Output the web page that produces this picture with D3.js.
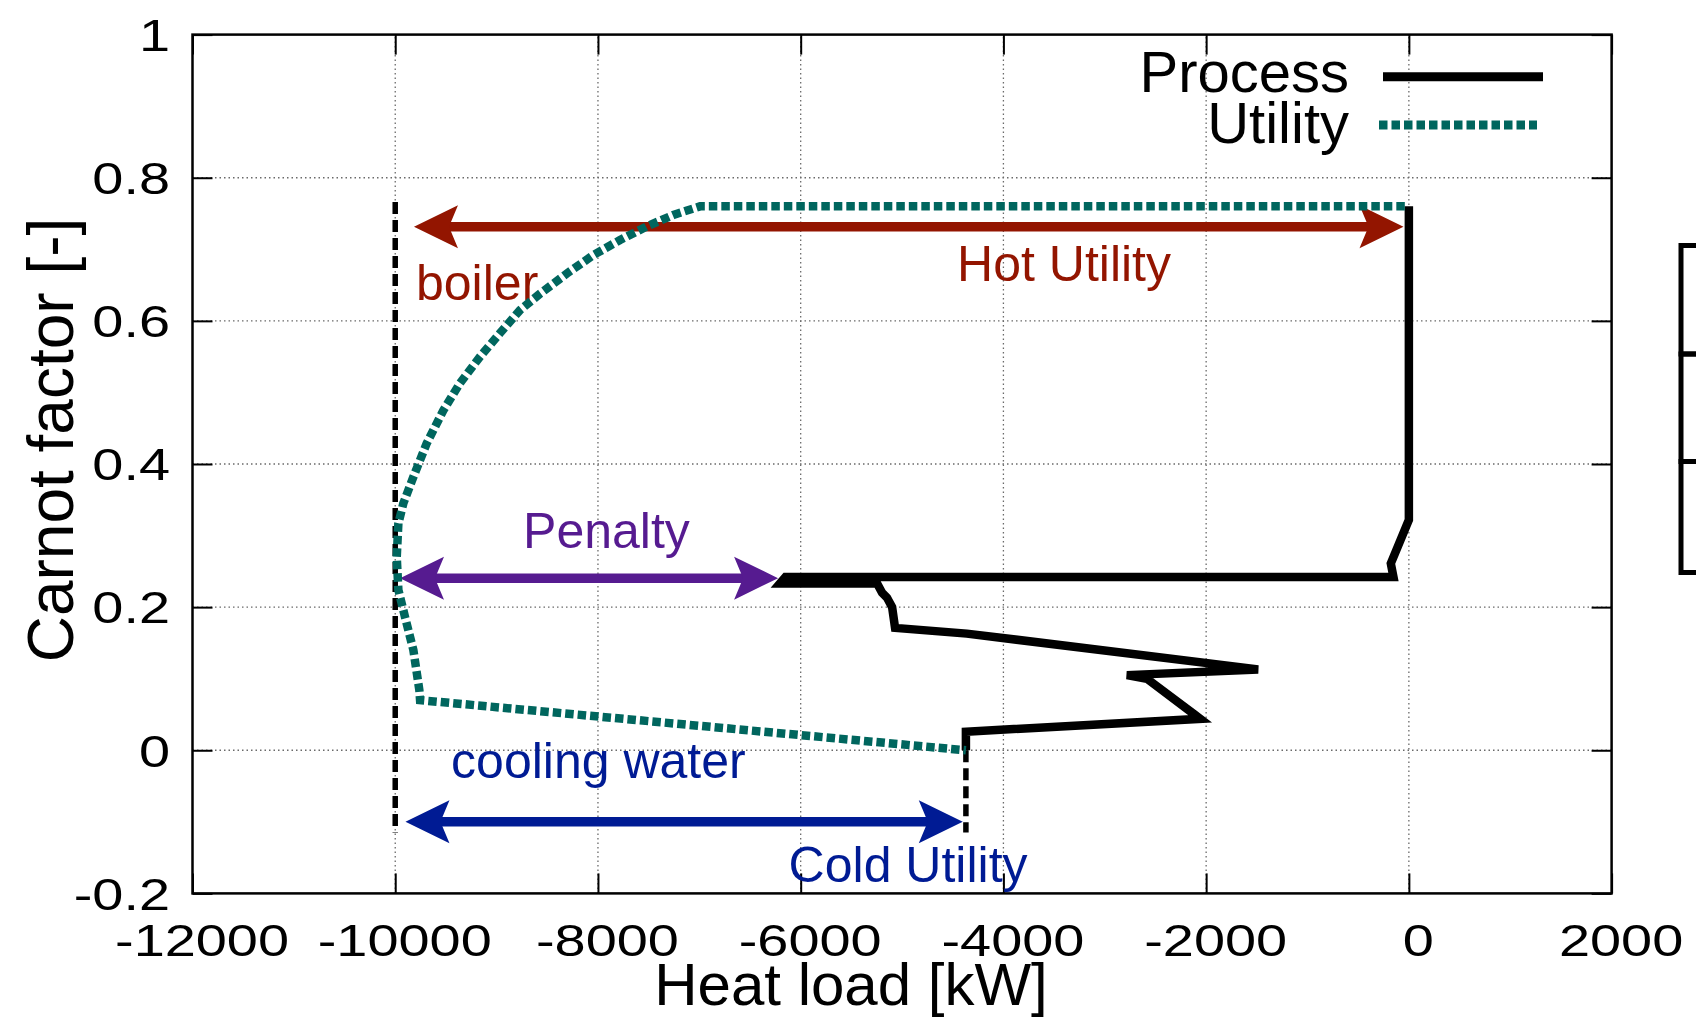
<!DOCTYPE html>
<html>
<head>
<meta charset="utf-8">
<script src="https://cdn.jsdelivr.net/npm/d3@7"></script>
<style>
  body { margin: 0; background: #fff; }
  svg { display: block; font-family: "Liberation Sans", Arial, sans-serif; }
</style>
</head>
<body>
<script>
// ---- data ----
var xTicks = [-12000, -10000, -8000, -6000, -4000, -2000, 0, 2000];
var xTickLabels = ['-12000', '-10000', '-8000', '-6000', '-4000', '-2000', '0', '2000'];
var yTicks = [-0.2, 0, 0.2, 0.4, 0.6, 0.8, 1];
var yTickLabels = ['-0.2', '0', '0.2', '0.4', '0.6', '0.8', '1'];

// process composite curve
var processX = [0, 0, -178, -152, -6150, -6205, -5246, -5197, -5148, -5098, -5069, -4361, -1487, -2782, -2585, -2125, -2059, -4370, -4370];
var processY = [0.760, 0.322, 0.261, 0.242, 0.242, 0.233, 0.233, 0.220, 0.213, 0.200, 0.171, 0.163, 0.113, 0.105, 0.100, 0.051, 0.044, 0.026, 0.0];

// utility curve
var utilityX = [-40, -6993, -7059, -7256, -7518, -7782, -8045, -8308, -8571, -8769, -8966, -9163, -9361, -9525, -9689, -9821, -9920, -9969, -9985, -9969, -9903, -9821, -9762, -9755, -4370];
var utilityY = [0.760, 0.760, 0.757, 0.748, 0.732, 0.713, 0.692, 0.666, 0.638, 0.615, 0.583, 0.550, 0.513, 0.475, 0.429, 0.382, 0.345, 0.317, 0.270, 0.224, 0.186, 0.140, 0.084, 0.070, 0.0];

// black dashed verticals: x, yTop, yBottom
var dashX = [-10000, -4370];
var dashTop = [0.766, 0.0];
var dashBottom = [-0.115, -0.115];

// double arrows
var arrowNames = ['hot', 'penalty', 'cold'];
var arrowX1 = [-9815, -9953, -9899];
var arrowX2 = [-53, -6223, -4401];
var arrowY = [0.7315, 0.2405, -0.100];
var arrowColors = ['#931500', '#561b90', '#001b94'];

// annotation labels
var labelTexts = ['boiler', 'Hot Utility', 'Penalty', 'cooling water', 'Cold Utility'];
var labelX = [-9795, -4457, -8739, -9449, -6119];
var labelY = [0.629, 0.656, 0.2825, -0.039, -0.184];
var labelColors = ['#931500', '#931500', '#561b90', '#001b94', '#001b94'];

var legendNames = ['Process', 'Utility'];

// ---- layout ----
var W = 1696, H = 1017;
var plotL = 192.5, plotR = 1611.6, plotT = 34.6, plotB = 893.4;
var tickFont = 44, tickStretch = 1.27;
var teal = '#00665e';

var svg = d3.select('body').append('svg')
  .attr('width', W)
  .attr('height', H);

svg.append('rect').attr('width', W).attr('height', H).attr('fill', '#fff');

var x = d3.scaleLinear().domain([-12000, 2000]).range([plotL, plotR]);
var y = d3.scaleLinear().domain([-0.2, 1]).range([plotB, plotT]);

// grid
var grid = svg.append('g').attr('class', 'grid')
  .attr('stroke', '#6a6a6a')
  .attr('stroke-width', 1.3)
  .attr('stroke-dasharray', '1.5,3');

grid.selectAll('line.gx')
  .data(xTicks.slice(1, -1))
  .enter().append('line')
  .attr('x1', function(d) { return x(d); })
  .attr('x2', function(d) { return x(d); })
  .attr('y1', plotB)
  .attr('y2', plotT);

grid.selectAll('line.gy')
  .data(yTicks.slice(1, -1))
  .enter().append('line')
  .attr('y1', function(d) { return y(d); })
  .attr('y2', function(d) { return y(d); })
  .attr('x1', plotL)
  .attr('x2', plotR);

// axes with inward ticks
var axisB = svg.append('g')
  .attr('transform', 'translate(0,' + plotB + ')')
  .call(d3.axisBottom(x).tickValues(xTicks).tickSizeInner(-20).tickSizeOuter(0)
    .tickFormat(function(d, i) { return xTickLabels[i]; }));

var axisL = svg.append('g')
  .attr('transform', 'translate(' + plotL + ',0)')
  .call(d3.axisLeft(y).tickValues(yTicks).tickSizeInner(-20).tickSizeOuter(0)
    .tickFormat(function(d, i) { return yTickLabels[i]; }));

var axisT = svg.append('g')
  .attr('transform', 'translate(0,' + plotT + ')')
  .call(d3.axisTop(x).tickValues(xTicks).tickSizeInner(-20).tickSizeOuter(0).tickFormat(''));

var axisR = svg.append('g')
  .attr('transform', 'translate(' + plotR + ',0)')
  .call(d3.axisRight(y).tickValues(yTicks).tickSizeInner(-20).tickSizeOuter(0).tickFormat(''));

[axisB, axisL, axisT, axisR].forEach(function(a) {
  a.select('.domain').remove();
  a.selectAll('.tick line').attr('stroke', '#000').attr('stroke-width', 2);
  a.selectAll('.tick text')
    .attr('fill', '#000')
    .style('font-size', tickFont + 'px')
    .style('font-family', '"Liberation Sans", Arial, sans-serif');
});

// gnuplot labels render wide, stretch them
axisB.selectAll('.tick text')
  .attr('x', 0).attr('y', 0).attr('dy', 0)
  .attr('transform', 'translate(9,63) scale(' + tickStretch + ',1)');

axisL.selectAll('.tick text')
  .attr('x', -22.5 / tickStretch).attr('dy', '0.36em')
  .attr('transform', 'scale(' + tickStretch + ',1)');

// black dashed verticals
svg.selectAll('line.vdash')
  .data(dashX)
  .enter().append('line')
  .attr('class', 'vdash')
  .attr('x1', function(d) { return x(d); })
  .attr('x2', function(d) { return x(d); })
  .attr('y1', function(d, i) { return y(dashTop[i]); })
  .attr('y2', function(d, i) { return y(dashBottom[i]); })
  .attr('stroke', '#000')
  .attr('stroke-width', 5.5)
  .attr('stroke-dasharray', '12,6');

// arrows
var headLen = 44, headHalf = 21.5, notch = 35, shaft = 9.5;

function arrowHead(tipX, tipY, dir) {
  // dir = +1 pointing right, -1 pointing left
  var bx = tipX - dir * headLen, nx = tipX - dir * notch;
  return 'M' + tipX + ',' + tipY +
    'L' + bx + ',' + (tipY - headHalf) +
    'L' + nx + ',' + tipY +
    'L' + bx + ',' + (tipY + headHalf) + 'Z';
}

var arrows = svg.selectAll('g.arrow')
  .data(arrowNames)
  .enter().append('g')
  .attr('class', 'arrow');

arrows.append('line')
  .attr('x1', function(d, i) { return x(arrowX1[i]) + notch - 2; })
  .attr('x2', function(d, i) { return x(arrowX2[i]) - notch + 2; })
  .attr('y1', function(d, i) { return y(arrowY[i]); })
  .attr('y2', function(d, i) { return y(arrowY[i]); })
  .attr('stroke', function(d, i) { return arrowColors[i]; })
  .attr('stroke-width', shaft);

arrows.append('path')
  .attr('d', function(d, i) { return arrowHead(x(arrowX1[i]), y(arrowY[i]), -1); })
  .attr('fill', function(d, i) { return arrowColors[i]; });

arrows.append('path')
  .attr('d', function(d, i) { return arrowHead(x(arrowX2[i]), y(arrowY[i]), 1); })
  .attr('fill', function(d, i) { return arrowColors[i]; });

// annotation labels
svg.selectAll('text.note')
  .data(labelTexts)
  .enter().append('text')
  .attr('class', 'note')
  .attr('x', function(d, i) { return x(labelX[i]); })
  .attr('y', function(d, i) { return y(labelY[i]); })
  .attr('fill', function(d, i) { return labelColors[i]; })
  .style('font-size', '50px')
  .text(function(d) { return d; });

// curves
var line = d3.line()
  .x(function(d) { return x(d[0]); })
  .y(function(d) { return y(d[1]); });

var processPts = processX.map(function(v, i) { return [v, processY[i]]; });
var utilityPts = utilityX.map(function(v, i) { return [v, utilityY[i]]; });

svg.append('path')
  .datum(processPts)
  .attr('d', line)
  .attr('fill', 'none')
  .attr('stroke', '#000')
  .attr('stroke-width', 8.5)
  .attr('stroke-linejoin', 'miter');

svg.append('path')
  .datum(utilityPts)
  .attr('d', line)
  .attr('fill', 'none')
  .attr('stroke', teal)
  .attr('stroke-width', 8.5)
  .attr('stroke-dasharray', '8.5,4');

// frame
svg.append('rect')
  .attr('x', plotL).attr('y', plotT)
  .attr('width', plotR - plotL).attr('height', plotB - plotT)
  .attr('fill', 'none')
  .attr('stroke', '#000')
  .attr('stroke-width', 2.5);

// legend
var legend = svg.append('g').attr('class', 'legend');
var legendBase = [91.7, 143];
var legendLineY = [76.7, 125];

legend.selectAll('text')
  .data(legendNames)
  .enter().append('text')
  .attr('x', 1349)
  .attr('y', function(d, i) { return legendBase[i]; })
  .attr('text-anchor', 'end')
  .style('font-size', '58px')
  .text(function(d) { return d; });

legend.append('line')
  .attr('x1', 1383).attr('x2', 1543)
  .attr('y1', legendLineY[0]).attr('y2', legendLineY[0])
  .attr('stroke', '#000').attr('stroke-width', 9);

legend.append('line')
  .attr('x1', 1379).attr('x2', 1537)
  .attr('y1', legendLineY[1]).attr('y2', legendLineY[1])
  .attr('stroke', teal).attr('stroke-width', 9)
  .attr('stroke-dasharray', '8.5,4');

// axis titles
svg.append('text')
  .attr('x', 851).attr('y', 1005)
  .attr('text-anchor', 'middle')
  .style('font-size', '60px')
  .text('Heat load [kW]');

svg.append('text')
  .attr('transform', 'translate(73,440) rotate(-90)')
  .attr('text-anchor', 'middle')
  .style('font-size', '64px')
  .text('Carnot factor [-]');

// cut-off box at the right edge
var boxTops = [245.5, 354, 461.5];
var boxBottoms = [354, 461.5, 572.5];
svg.selectAll('rect.side')
  .data(boxTops)
  .enter().append('rect')
  .attr('class', 'side')
  .attr('x', 1681)
  .attr('y', function(d) { return d; })
  .attr('width', 60)
  .attr('height', function(d, i) { return boxBottoms[i] - d; })
  .attr('fill', 'none')
  .attr('stroke', '#000')
  .attr('stroke-width', 5);
</script>
</body>
</html>
